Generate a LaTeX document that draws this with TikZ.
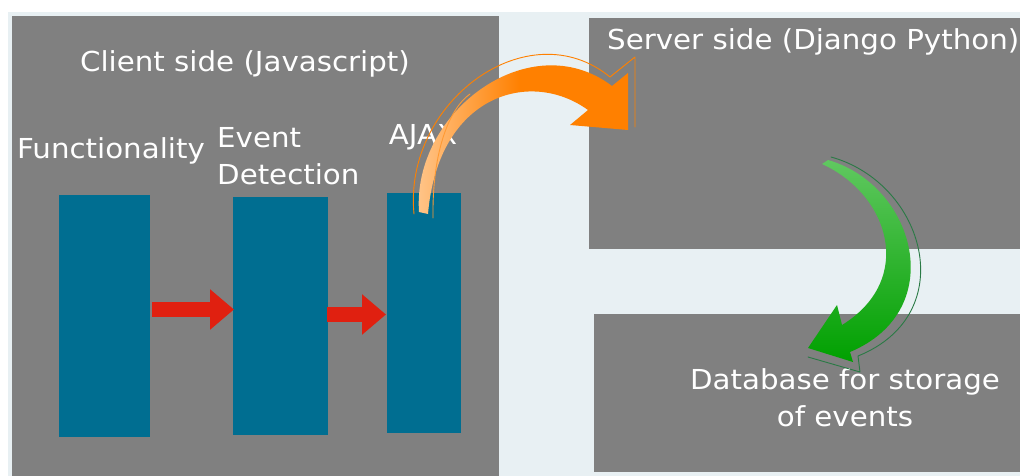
\documentclass[tikz,border=0pt]{standalone}
\usepackage{fontspec}
\setmainfont{DejaVu Sans}[FakeStretch=1.065]
\usetikzlibrary{arrows.meta,calc}
\definecolor{bgblue}{HTML}{E8F0F3}
\definecolor{panelgray}{HTML}{808080}
\definecolor{barblue}{HTML}{006E91}
\definecolor{redarr}{HTML}{E02010}
\definecolor{orng}{HTML}{FF8000}
\definecolor{orngl}{HTML}{FFC890}
\definecolor{grn}{HTML}{00A000}
\definecolor{grnl}{HTML}{60C860}
\definecolor{grnd}{HTML}{2A7A45}
\begin{document}
\begin{tikzpicture}[x=1pt,y=-1pt,
  panelbox/.style={fill=panelgray, draw=none},
  bar/.style={fill=barblue, draw=none, inner sep=0pt, outer sep=0pt},
  lbl/.style={text=white, font=\fontsize{27.5}{37}\selectfont, inner sep=0pt},
  blockarrow/.style={draw=redarr, line width=15pt, -{Triangle[width=39pt,length=24pt]}},
  sketch/.style={line width=0.9pt, line cap=round, line join=round}
]
\useasboundingbox (0,0) rectangle (1020,476);
\fill[white] (0,0) rectangle (1020,476);
\fill[bgblue] (8,12) rectangle (1020,476);

% panels
\fill[panelbox] (12,16) rectangle (499,476);
\fill[panelbox] (589,18) rectangle (1020,249);
\fill[panelbox] (594,314) rectangle (1020,472);

% bars
\node[bar, minimum width=91pt, minimum height=242pt] (func) at (104.5,316) {};
\node[bar, minimum width=95pt, minimum height=238pt] (event) at (280.5,316) {};
\node[bar, minimum width=74pt, minimum height=240pt] (ajax) at (424,313) {};

% labels
\node[lbl, anchor=base] (clientlbl) at (245,71.7) {Client side (Javascript)};
\node[lbl, anchor=base] (funclbl) at (111,158) {Functionality};
\node[lbl, anchor=base west, align=left] (eventlbl) at (217,184) {Event\\Detection};
\node[lbl, anchor=base] (ajaxlbl) at (423,145) {AJAX};
\node[lbl, anchor=base west] (serverlbl) at (607,50) {Server side (Django Python)};
\node[lbl, anchor=base, align=center] (dblbl) at (845,426.7) {Database for storage\\of events};

% red block arrows
\draw[blockarrow] ($(func.east)+(2,-6.5)$) -- ($(event.west)+(1,-6.5)$);
\draw[blockarrow] ($(event.east)+(-1,-1.5)$) -- ($(ajax.west)+(-1,1.5)$);

% orange curved arrow (AJAX -> server)
\shade[left color=orngl, right color=orng, middle color=orng]
  (419,212) .. controls (412,112) and (530,24) .. (612,86)
  -- (628,73) -- (628,130) -- (570,125) -- (588,110)
  .. controls (530,68) and (438,95) .. (428,214) -- cycle;
\draw[sketch, orng]
  (414,214) .. controls (403,102) and (528,10) .. (610,77)
  -- (635,57) -- (635,127);
\draw[sketch, orng!80!white]
  (433,218) .. controls (432,150) and (450,108) .. (470,94);

% green curved arrow (server -> database)
\shade[top color=grnl, bottom color=grn]
  (822,164) -- (828,160) .. controls (915,185) and (950,310) .. (850,352)
  -- (853,362) -- (808,348) -- (837,305) -- (842,325)
  .. controls (915,280) and (890,195) .. (822,164) -- cycle;
\draw[sketch, grnd]
  (831,157) .. controls (925,183) and (962,314) .. (858,356)
  -- (860,372) -- (808,357);
\end{tikzpicture}
\end{document}
